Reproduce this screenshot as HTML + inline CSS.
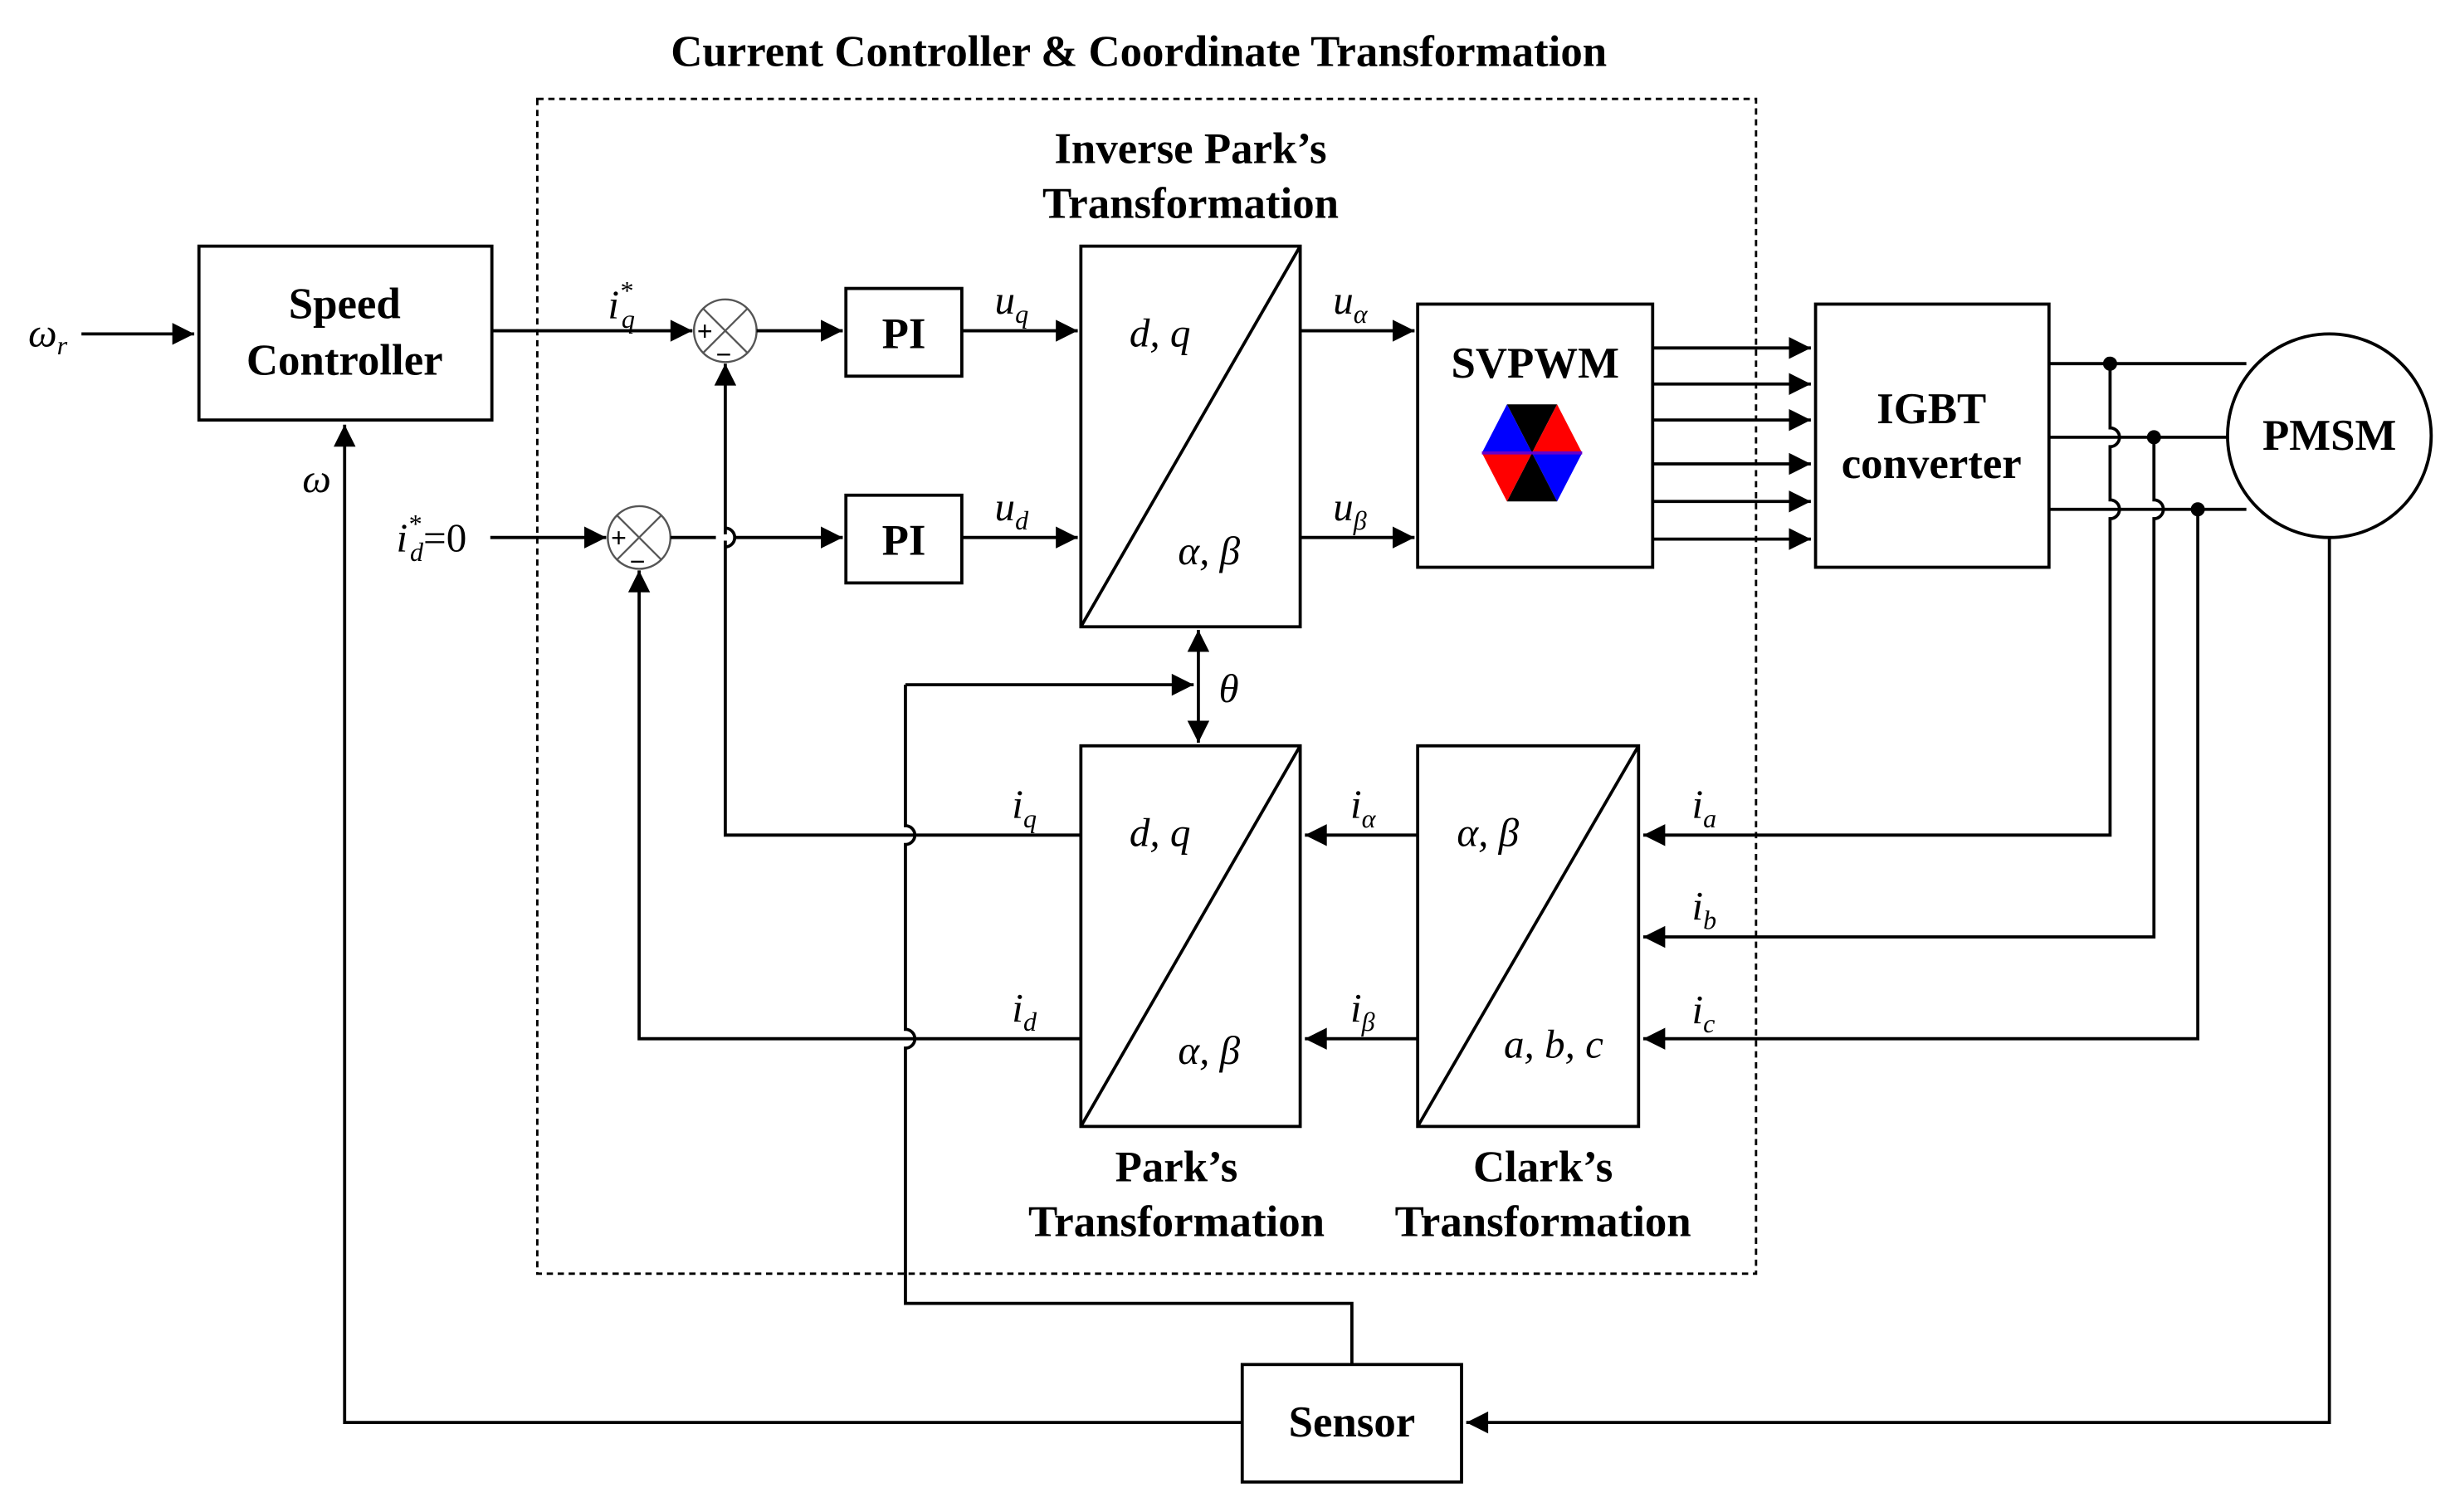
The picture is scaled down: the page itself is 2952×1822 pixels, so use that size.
<!DOCTYPE html>
<html><head><meta charset="utf-8"><style>html,body{margin:0;padding:0;background:#fff}svg{display:block}</style></head>
<body>
<svg xmlns="http://www.w3.org/2000/svg" width="2952" height="1822" viewBox="0 0 1564 965">
<defs>
<marker id="a2" viewBox="0 0 10 10" refX="10" refY="5" markerWidth="18" markerHeight="14" markerUnits="userSpaceOnUse" orient="auto-start-reverse"><path d="M0,0 L10,5 L0,10 z" style="fill:#000;stroke:none"/></marker>
</defs>
<style>
text{font-family:"Liberation Serif",serif;fill:#000}
.b{font-weight:bold;font-size:28px;text-anchor:middle}
.i{font-style:italic;font-size:26px}
.s{font-style:italic;font-size:17px}
line,path,rect,circle,polyline{stroke:#000;stroke-width:2;fill:none}
</style>
<g>
<text class="b" x="727" y="42">Current Controller &amp; Coordinate Transformation</text>
<rect x="343" y="63" width="778" height="750" style="stroke-dasharray:4,3;stroke-width:1.5"/>

<!-- speed controller -->
<rect x="127" y="157" width="187" height="111"/>
<text class="b" x="220" y="203">Speed</text>
<text class="b" x="220" y="239">Controller</text>
<text class="i" x="18" y="221">ω<tspan class="s" dy="5">r</tspan></text>
<line x1="52" y1="213" x2="124" y2="213" marker-end="url(#a2)"/>
<text class="i" x="193" y="314">ω</text>

<!-- q path -->
<line x1="314" y1="211" x2="442" y2="211" marker-end="url(#a2)"/>
<text class="i" x="388" y="203">i<tspan class="s" dy="-12">*</tspan><tspan class="s" dx="-7" dy="18">q</tspan></text>
<circle cx="463" cy="211" r="20" style="stroke-width:1.3;stroke:#555"/>
<line x1="449" y1="197" x2="477" y2="225" style="stroke-width:1.2;stroke:#555"/>
<line x1="477" y1="197" x2="449" y2="225" style="stroke-width:1.2;stroke:#555"/>
<text x="445" y="217" style="font-size:17px;font-family:'Liberation Sans',sans-serif">+</text>
<text x="457" y="232" style="font-size:17px;font-family:'Liberation Sans',sans-serif">−</text>
<line x1="483" y1="211" x2="538" y2="211" marker-end="url(#a2)"/>
<rect x="540" y="184" width="74" height="56"/>
<text class="b" x="577" y="222">PI</text>
<line x1="614" y1="211" x2="688" y2="211" marker-end="url(#a2)"/>
<text class="i" x="635" y="200">u<tspan class="s" dy="6">q</tspan></text>

<!-- d path -->
<text class="i" x="253" y="352">i<tspan class="s" dy="-12">*</tspan><tspan class="s" dx="-7" dy="18">d</tspan><tspan dy="-6" style="font-style:normal">=0</tspan></text>
<line x1="313" y1="343" x2="387" y2="343" marker-end="url(#a2)"/>
<circle cx="408" cy="343" r="20" style="stroke-width:1.3;stroke:#555"/>
<line x1="394" y1="329" x2="422" y2="357" style="stroke-width:1.2;stroke:#555"/>
<line x1="422" y1="329" x2="394" y2="357" style="stroke-width:1.2;stroke:#555"/>
<text x="390" y="349" style="font-size:17px;font-family:'Liberation Sans',sans-serif">+</text>
<text x="402" y="364" style="font-size:17px;font-family:'Liberation Sans',sans-serif">−</text>
<line x1="428" y1="343" x2="538" y2="343" marker-end="url(#a2)"/>
<rect x="540" y="316" width="74" height="56"/>
<text class="b" x="577" y="354">PI</text>
<line x1="614" y1="343" x2="688" y2="343" marker-end="url(#a2)"/>
<text class="i" x="635" y="332">u<tspan class="s" dy="6">d</tspan></text>

<!-- inverse park -->
<text class="b" x="760" y="104">Inverse Park’s</text>
<text class="b" x="760" y="139">Transformation</text>
<rect x="690" y="157" width="140" height="243"/>
<line x1="690" y1="400" x2="830" y2="157"/>
<text class="i" x="721" y="221">d, q</text>
<text class="i" x="752" y="360">α, β</text>
<line x1="830" y1="211" x2="903" y2="211" marker-end="url(#a2)"/>
<text class="i" x="851" y="200">u<tspan class="s" dy="6">α</tspan></text>
<line x1="830" y1="343" x2="903" y2="343" marker-end="url(#a2)"/>
<text class="i" x="851" y="332">u<tspan class="s" dy="6">β</tspan></text>

<!-- SVPWM -->
<rect x="905" y="194" width="150" height="168"/>
<text class="b" x="980" y="241">SVPWM</text>
<g style="stroke:none">
<polygon points="962,258 994,258 978,289" fill="#000"/>
<polygon points="994,258 1010,289 978,289" fill="#f00"/>
<polygon points="1010,289 994,320 978,289" fill="#00f"/>
<polygon points="994,320 962,320 978,289" fill="#000"/>
<polygon points="962,320 946,289 978,289" fill="#f00"/>
<polygon points="946,289 962,258 978,289" fill="#00f"/>
</g>
<line x1="946" y1="289" x2="1010" y2="289" style="stroke:#60c;stroke-width:2"/>
<g>
<line x1="1055" y1="222" x2="1156" y2="222" marker-end="url(#a2)"/>
<line x1="1055" y1="245" x2="1156" y2="245" marker-end="url(#a2)"/>
<line x1="1055" y1="268" x2="1156" y2="268" marker-end="url(#a2)"/>
<line x1="1055" y1="296" x2="1156" y2="296" marker-end="url(#a2)"/>
<line x1="1055" y1="320" x2="1156" y2="320" marker-end="url(#a2)"/>
<line x1="1055" y1="344" x2="1156" y2="344" marker-end="url(#a2)"/>
</g>

<!-- IGBT -->
<rect x="1159" y="194" width="149" height="168"/>
<text class="b" x="1233" y="270">IGBT</text>
<text class="b" x="1233" y="305">converter</text>

<!-- PMSM -->
<circle cx="1487" cy="278" r="65"/>
<text class="b" x="1487" y="287">PMSM</text>
<line x1="1308" y1="232" x2="1434" y2="232"/>
<line x1="1308" y1="279" x2="1422" y2="279"/>
<line x1="1308" y1="325" x2="1434" y2="325"/>
<circle cx="1347" cy="232" r="3.5" style="fill:#000"/>
<circle cx="1375" cy="279" r="3.5" style="fill:#000"/>
<circle cx="1403" cy="325" r="3.5" style="fill:#000"/>
<path d="M1347,232 V273 a6,6 0 0 1 0,12 V319 a6,6 0 0 1 0,12 V533 H1049" marker-end="url(#a2)"/>
<path d="M1375,279 V319 a6,6 0 0 1 0,12 V598 H1049" marker-end="url(#a2)"/>
<path d="M1403,325 V663 H1049" marker-end="url(#a2)"/>
<text class="i" x="1080" y="522">i<tspan class="s" dy="6">a</tspan></text>
<text class="i" x="1080" y="587">i<tspan class="s" dy="6">b</tspan></text>
<text class="i" x="1080" y="653">i<tspan class="s" dy="6">c</tspan></text>

<!-- Clark -->
<rect x="905" y="476" width="141" height="243"/>
<line x1="905" y1="719" x2="1046" y2="476"/>
<text class="i" x="930" y="540">α, β</text>
<text class="i" x="960" y="675">a, b, c</text>
<text class="b" x="985" y="754">Clark’s</text>
<text class="b" x="985" y="789">Transformation</text>
<line x1="905" y1="533" x2="833" y2="533" marker-end="url(#a2)"/>
<line x1="905" y1="663" x2="833" y2="663" marker-end="url(#a2)"/>
<text class="i" x="862" y="522">i<tspan class="s" dy="6">α</tspan></text>
<text class="i" x="862" y="652">i<tspan class="s" dy="6">β</tspan></text>

<!-- Park -->
<rect x="690" y="476" width="140" height="243"/>
<line x1="690" y1="719" x2="830" y2="476"/>
<text class="i" x="721" y="540">d, q</text>
<text class="i" x="752" y="679">α, β</text>
<text class="b" x="751" y="754">Park’s</text>
<text class="b" x="751" y="789">Transformation</text>
<text class="i" x="646" y="522">i<tspan class="s" dy="6">q</tspan></text>
<text class="i" x="646" y="652">i<tspan class="s" dy="6">d</tspan></text>

<!-- feedback iq, id -->
<path d="M690,533 H463 V232" marker-end="url(#a2)"/>
<path d="M690,663 H408 V364" marker-end="url(#a2)"/>
<line x1="457" y1="343" x2="469" y2="343" style="stroke:#fff;stroke-width:4"/>
<path d="M463,337 a6,6 0 0 1 0,12"/>

<!-- theta -->
<line x1="765" y1="420" x2="765" y2="456"/>
<line x1="765" y1="420" x2="765" y2="402" marker-end="url(#a2)"/>
<line x1="765" y1="456" x2="765" y2="474" marker-end="url(#a2)"/>
<text class="i" x="778" y="448">θ</text>
<path d="M578,437 H762" marker-end="url(#a2)"/>
<path d="M578,437 V527 a6,6 0 0 1 0,12 V657 a6,6 0 0 1 0,12 V832 H863 V871"/>

<!-- Sensor -->
<rect x="793" y="871" width="140" height="75"/>
<text class="b" x="863" y="917">Sensor</text>
<path d="M1487,343 V908 H936" marker-end="url(#a2)"/>
<path d="M793,908 H220 V271" marker-end="url(#a2)"/>
</g>
</svg>
</body></html>
